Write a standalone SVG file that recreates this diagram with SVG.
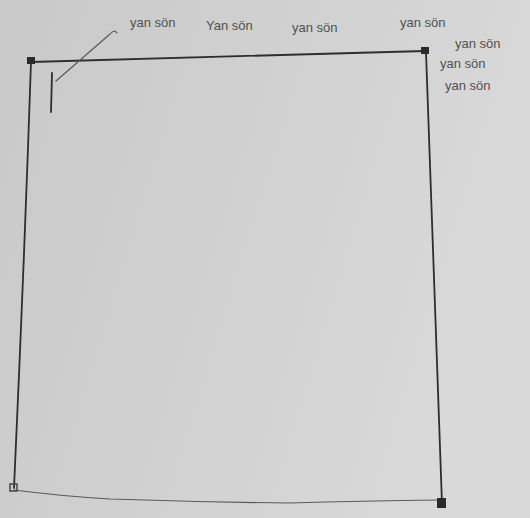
<svg xmlns="http://www.w3.org/2000/svg" width="530" height="518" viewBox="0 0 530 518">
<defs>
<linearGradient id="bg" x1="0" y1="0" x2="1" y2="0.3">
<stop offset="0" stop-color="#c9c9c9"/>
<stop offset="0.6" stop-color="#d2d2d2"/>
<stop offset="1" stop-color="#d9d9d9"/>
</linearGradient>
<style>
.ink{fill:none;stroke:#2e2e2e;stroke-width:1.8;stroke-linecap:round;stroke-linejoin:round}
.thin{fill:none;stroke:#5a5a5a;stroke-width:1.2;stroke-linecap:round}
.lbl{font-family:"Liberation Sans",Arial,sans-serif;font-size:13px;fill:#505050}
.dot{fill:#2a2a2a}
</style>
</defs>
<rect width="530" height="518" fill="url(#bg)"/>
<g id="connectors">
<path class="ink" d="M31,62 L425,51"/>
<path class="ink" d="M31,62 Q24,270 14,488"/>
<path class="ink" d="M426,52 Q434,280 442,504"/>
<path class="thin" d="M14,490 Q60,496 110,499 Q200,502 290,503 Q360,501 440,500"/>
<path class="ink" d="M52,73 L51,112"/>
<path class="thin" d="M56,81 L110,34 Q114,29 117,33"/>
</g>
<g id="corner-tl"><rect class="dot" x="27" y="57" width="8" height="7"/></g>
<g id="corner-tr"><rect class="dot" x="421" y="47" width="8" height="7"/></g>
<g id="corner-bl"><rect x="10" y="484" width="7" height="7" fill="none" stroke="#444" stroke-width="1.5"/></g>
<g id="corner-br"><rect class="dot" x="437" y="498" width="9" height="10"/></g>
<g id="labels">
<text class="lbl" x="130" y="27">yan sön</text>
<text class="lbl" x="206" y="30">Yan sön</text>
<text class="lbl" x="292" y="32">yan sön</text>
<text class="lbl" x="400" y="27">yan sön</text>
<text class="lbl" x="455" y="48">yan sön</text>
<text class="lbl" x="440" y="68">yan sön</text>
<text class="lbl" x="445" y="90">yan sön</text>
</g>
</svg>
